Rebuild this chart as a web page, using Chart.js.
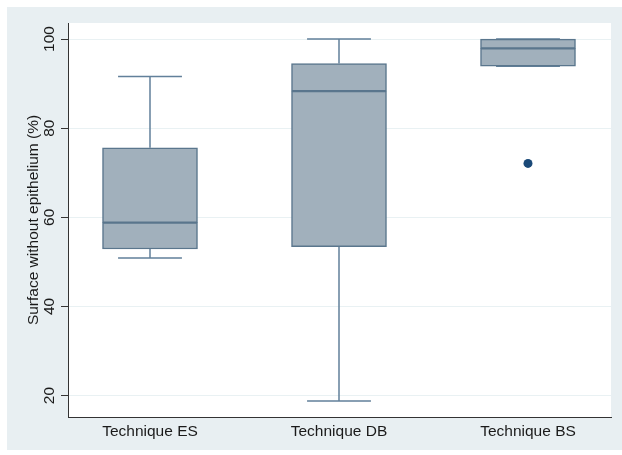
<!DOCTYPE html>
<html>
<head>
<meta charset="utf-8">
<script src="https://cdn.jsdelivr.net/npm/chart.js@4"></script>
<style>
  html, body { margin: 0; padding: 0; background: #ffffff; }
  #frame { position: absolute; left: 7px; top: 7px; width: 615px; height: 443px; background: #e8eff2; }
  #chart { display: block; }
</style>
</head>
<body>
<div id="frame"><canvas id="chart" width="615" height="443"></canvas></div>
<script>
// Box-plot summaries per technique
const categories   = ['Technique ES', 'Technique DB', 'Technique BS'];
const lowerWhisker = [50.9, 18.8, 93.9];
const q1           = [52.9, 53.4, 93.9];
const median       = [58.8, 88.3, 97.9];
const q3           = [75.6, 94.5, 100];
const upperWhisker = [91.6, 100, 100];
const outliers     = [[], [], [72.1]];
const yTicks       = [20, 40, 60, 80, 100];

const FONT = '"Liberation Sans", Arial, Helvetica, sans-serif';
const FONT_SIZE = 15.5;
const BOX_FILL = '#a1b0bc';
const BOX_EDGE = '#5a768d';
const WHISKER = '#62809a';
const BOX_PX = 95;          // box width in pixels
const CAP_HALF = 0.169;     // half cap width, x-axis units
const PX_PER_UNIT = 189;

// whisker stems and caps as broken line segments
const whiskerPts = [];
categories.forEach((c, i) => {
  whiskerPts.push({x: i, y: q3[i]}, {x: i, y: upperWhisker[i]}, {x: i, y: null});
  whiskerPts.push({x: i - CAP_HALF, y: upperWhisker[i]}, {x: i + CAP_HALF, y: upperWhisker[i]}, {x: i, y: null});
  whiskerPts.push({x: i, y: q1[i]}, {x: i, y: lowerWhisker[i]}, {x: i, y: null});
  whiskerPts.push({x: i - CAP_HALF, y: lowerWhisker[i]}, {x: i + CAP_HALF, y: lowerWhisker[i]}, {x: i, y: null});
});
const outlierPts = [];
outliers.forEach((arr, i) => arr.forEach(v => outlierPts.push({x: i, y: v})));

const plotBackground = {
  id: 'plotBackground',
  beforeDraw(chart) {
    const {ctx, chartArea: a} = chart;
    ctx.save();
    ctx.fillStyle = '#ffffff';
    ctx.fillRect(a.left, a.top, a.right - a.left, a.bottom - a.top);
    ctx.restore();
  }
};

// vertical y tick labels
const rotatedYLabels = {
  id: 'rotatedYLabels',
  afterDraw(chart) {
    const {ctx} = chart;
    const ys = chart.scales.y;
    ctx.save();
    ctx.font = FONT_SIZE + 'px ' + FONT;
    ctx.fillStyle = '#1a1a1a';
    ctx.textAlign = 'center';
    ctx.textBaseline = 'middle';
    ys.ticks.forEach(t => {
      const py = ys.getPixelForValue(t.value);
      ctx.save();
      ctx.translate(ys.right - 18, py);
      ctx.rotate(-Math.PI / 2);
      ctx.fillText(String(t.value), 0, 0);
      ctx.restore();
    });
    ctx.restore();
  }
};

new Chart(document.getElementById('chart'), {
  type: 'bar',
  data: {
    datasets: [
      {
        type: 'scatter',
        data: outlierPts,
        pointRadius: 4.5,
        pointBackgroundColor: '#1a4978',
        pointBorderWidth: 0,
        order: 0
      },
      {
        label: 'lower',
        data: categories.map((c, i) => ({x: i, y: [q1[i], median[i]]})),
        backgroundColor: BOX_FILL,
        borderColor: BOX_EDGE,
        borderWidth: 1.5,
        borderSkipped: false,
        barThickness: BOX_PX,
        grouped: false,
        order: 1
      },
      {
        label: 'upper',
        data: categories.map((c, i) => ({x: i, y: [median[i], q3[i]]})),
        backgroundColor: BOX_FILL,
        borderColor: BOX_EDGE,
        borderWidth: 1.5,
        borderSkipped: false,
        barThickness: BOX_PX,
        grouped: false,
        order: 1
      },
      {
        type: 'line',
        data: whiskerPts,
        borderColor: WHISKER,
        borderWidth: 1.5,
        pointRadius: 0,
        spanGaps: false,
        fill: false,
        order: 2
      }
    ]
  },
  options: {
    responsive: false,
    animation: false,
    layout: { padding: { top: 16, right: 11, left: 0, bottom: 0 } },
    plugins: { legend: { display: false }, tooltip: { enabled: false } },
    scales: {
      x: {
        type: 'linear',
        offset: false,
        min: -82 / PX_PER_UNIT,
        max: 2 + 83 / PX_PER_UNIT,
        afterBuildTicks(s) { s.ticks = categories.map((c, i) => ({value: i})); },
        afterFit(s) { s.height = 33; },
        ticks: {
          callback: v => categories[v],
          font: { size: FONT_SIZE, family: FONT },
          color: '#1a1a1a',
          padding: 5,
          maxRotation: 0,
          autoSkip: false
        },
        grid: { offset: false, drawOnChartArea: false, drawTicks: false },
        border: { color: '#333333', width: 1 }
      },
      y: {
        min: 15.2,
        max: 103.6,
        afterBuildTicks(s) { s.ticks = yTicks.map(v => ({value: v})); },
        afterFit(s) { s.width = 61; },
        ticks: { display: false },
        grid: { color: '#e9f1f3', lineWidth: 1, tickLength: 7, tickColor: '#333333' },
        border: { color: '#333333', width: 1 },
        title: {
          display: true,
          text: 'Surface without epithelium (%)',
          font: { size: FONT_SIZE, family: FONT },
          color: '#1a1a1a',
          padding: { top: 17, bottom: 0 }
        }
      }
    }
  },
  plugins: [plotBackground, rotatedYLabels]
});
</script>
</body>
</html>
